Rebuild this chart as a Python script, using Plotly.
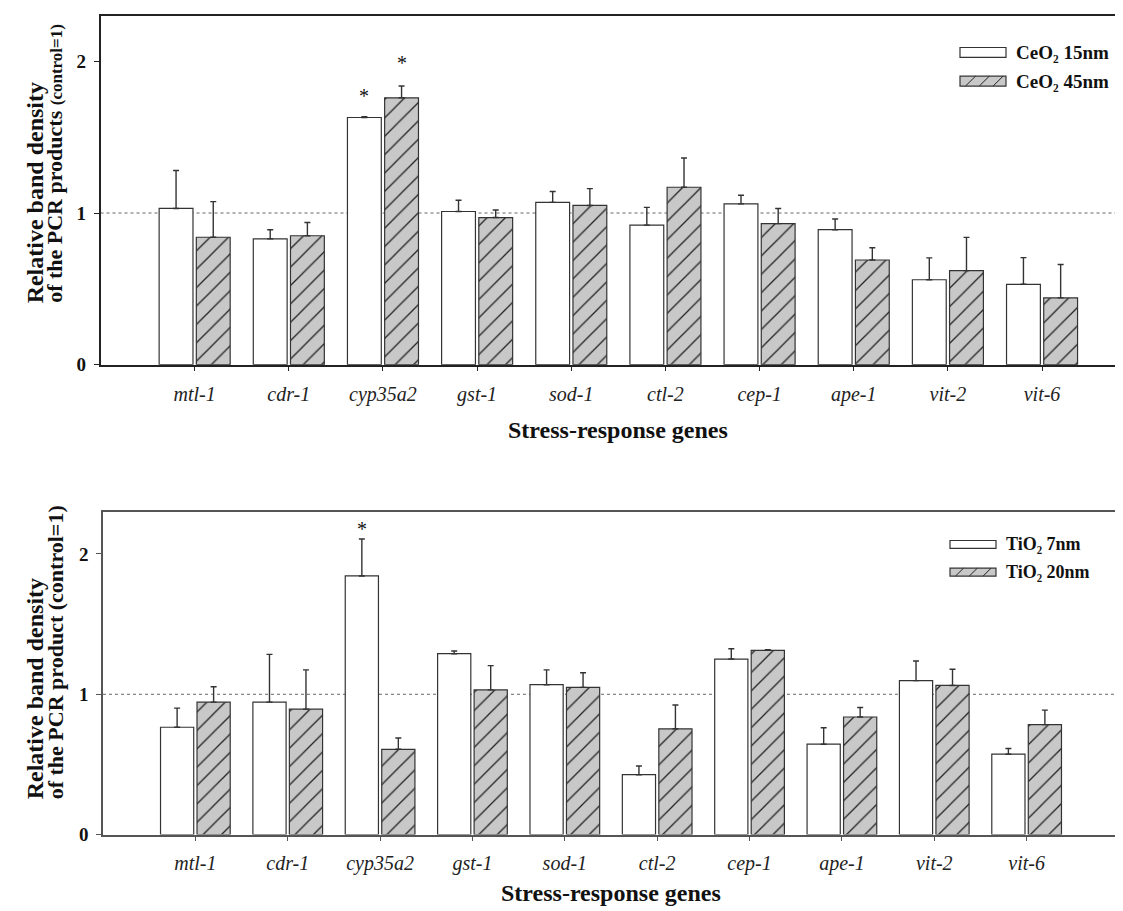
import plotly.graph_objects as go

# ---------------- data ----------------
genes = ["mtl-1", "cdr-1", "cyp35a2", "gst-1", "sod-1", "ctl-2", "cep-1", "ape-1", "vit-2", "vit-6"]

ceo2_15 = [1.03, 0.83, 1.63, 1.01, 1.07, 0.92, 1.06, 0.89, 0.56, 0.53]
ceo2_15_err = [0.25, 0.06, 0.006, 0.074, 0.072, 0.117, 0.057, 0.071, 0.144, 0.176]
ceo2_45 = [0.84, 0.85, 1.76, 0.97, 1.05, 1.17, 0.93, 0.69, 0.62, 0.44]
ceo2_45_err = [0.235, 0.087, 0.078, 0.05, 0.111, 0.193, 0.10, 0.081, 0.219, 0.22]

tio2_7 = [0.765, 0.944, 1.843, 1.289, 1.068, 0.427, 1.251, 0.644, 1.097, 0.573]
tio2_7_err = [0.136, 0.34, 0.263, 0.019, 0.106, 0.062, 0.073, 0.117, 0.14, 0.04]
tio2_20 = [0.944, 0.894, 0.608, 1.031, 1.049, 0.754, 1.313, 0.838, 1.063, 0.784]
tio2_20_err = [0.11, 0.28, 0.08, 0.173, 0.104, 0.169, 0.005, 0.068, 0.115, 0.103]

# significance stars: (gene index, series 0=small/1=large, y value)
stars_top = [(2, 0, 1.77), (2, 1, 1.99)]
stars_bottom = [(2, 0, 2.18)]

top_legend = ["CeO\u2082 15nm", "CeO\u2082 45nm"]
bottom_legend = ["TiO\u2082 7nm", "TiO\u2082 20nm"]

x_title = "Stress-response genes"
y_title_top = [("Relative band density", 24),
               ("of the PCR products <span style='font-size:17px'>(control=1)</span>", 22)]
y_title_bottom = [("Relative band density", 24),
                  ("of the PCR product (control=1)", 22)]

# ---------------- layout helpers ----------------
W, H = 1123, 911
FONT = "Liberation Serif, Times New Roman, serif"
HATCH_BG = "#c8c8c8"
EDGE = "#333333"


def px(x):
    return x / W


def py(y):
    return 1 - y / H


fig = go.Figure()


def add_pair(a, aerr, b, berr, xa, ya):
    fig.add_trace(go.Bar(
        x=genes, y=a, xaxis=xa, yaxis=ya, showlegend=False,
        marker=dict(color="white", line=dict(color=EDGE, width=1.2)),
        error_y=dict(type="data", array=aerr, arrayminus=[0] * len(aerr), symmetric=False,
                     color=EDGE, thickness=1.4, width=3),
    ))
    fig.add_trace(go.Bar(
        x=genes, y=b, xaxis=xa, yaxis=ya, showlegend=False,
        marker=dict(color=HATCH_BG, line=dict(color=EDGE, width=1.2),
                    pattern=dict(shape="/", size=13, solidity=0.1, fgcolor="#222222",
                                 bgcolor=HATCH_BG, fillmode="replace")),
        error_y=dict(type="data", array=berr, arrayminus=[0] * len(berr), symmetric=False,
                     color=EDGE, thickness=1.4, width=3),
    ))


add_pair(ceo2_15, ceo2_15_err, ceo2_45, ceo2_45_err, "x", "y")
add_pair(tio2_7, tio2_7_err, tio2_20, tio2_20_err, "x2", "y2")

# domains (pixel measured)
top_x = [px(92.5), 1.0]
top_xrange = [-1, (1123 - 186.7) / 94.15]
top_y = [py(361), py(8)]
bot_x = [px(95), px(1111)]
bot_xrange = [-1, 10]
bot_y = [py(836.7), py(510)]

tickfont_x = dict(family=FONT, size=20, color="#222", style="italic")
tickfont_y = dict(family=FONT, size=19, color="#111", weight="bold")

fig.update_layout(
    width=W, height=H,
    margin=dict(l=0, r=0, t=0, b=0),
    paper_bgcolor="white", plot_bgcolor="white",
    barmode="group", bargap=0.21, bargroupgap=0.09,
    xaxis=dict(domain=top_x, range=top_xrange, type="category", showline=True, mirror=True,
               linecolor="#222", linewidth=1.5, ticks="outside", ticklen=5, tickcolor="#222",
               tickwidth=1.3, tickfont=tickfont_x, ticklabelstandoff=6, showgrid=False,
               zeroline=False, anchor="y"),
    yaxis=dict(domain=top_y, range=[0, 2.3], tickvals=[0, 1, 2], showline=True, mirror=False,
               linecolor="#222", linewidth=1.5, ticks="outside", ticklen=5, tickcolor="#222",
               tickwidth=1.3, tickfont=tickfont_y, ticklabelstandoff=4, showgrid=False,
               zeroline=False, anchor="x"),
    xaxis2=dict(domain=bot_x, range=bot_xrange, type="category", showline=True, mirror=True,
                linecolor="#555", linewidth=1.5, ticks="outside", ticklen=5, tickcolor="#555",
                tickwidth=1.3, tickfont=tickfont_x, ticklabelstandoff=5, showgrid=False,
                zeroline=False, anchor="y2"),
    yaxis2=dict(domain=bot_y, range=[0, 2.3], tickvals=[0, 1, 2], showline=True, mirror=True,
                linecolor="#555", linewidth=1.5, ticks="outside", ticklen=5, tickcolor="#555",
                tickwidth=1.3, tickfont=tickfont_y, ticklabelstandoff=4, showgrid=False,
                zeroline=False, anchor="x2"),
)

# dotted control line
for xr, yr in (("x domain", "y"), ("x2 domain", "y2")):
    fig.add_shape(type="line", xref=xr, yref=yr, x0=0, x1=1, y0=1, y1=1,
                  line=dict(color="#666", width=1, dash="dot"), layer="below")

annotations = []
# axis titles
for xc, ycen in (((px(92.5) + px(1128)) / 2, 427), ((bot_x[0] + bot_x[1]) / 2, 896)):
    annotations.append(dict(xref="paper", yref="paper", x=xc, y=py(ycen), text=x_title,
                            showarrow=False, xanchor="center", yanchor="middle",
                            font=dict(family=FONT, size=24, color="#111", weight="bold")))

for lines, ybot in ((y_title_top, 301), (y_title_bottom, 803)):
    for (line, fs), xc in zip(lines, (26.5, 47)):
        annotations.append(dict(xref="paper", yref="paper", x=px(xc), y=py(ybot), text=line,
                                showarrow=False, textangle=-90, xanchor="center", yanchor="bottom",
                                font=dict(family=FONT, size=fs, color="#111", weight="bold")))

# stars
bar_off = 0.1975
for stars, xr, yr in ((stars_top, "x", "y"), (stars_bottom, "x2", "y2")):
    for gi, s, yv in stars:
        annotations.append(dict(xref=xr, yref=yr, x=gi + (-bar_off if s == 0 else bar_off), y=yv,
                                text="*", showarrow=False, xanchor="center", yanchor="middle",
                                font=dict(family=FONT, size=20, color="#111")))

# manual legends
shapes = []


def legend(items, x0, x1, rows, h, tx, fsize):
    for k, (label, yc) in enumerate(zip(items, rows)):
        y0, y1 = yc + h / 2, yc - h / 2
        shapes.append(dict(type="rect", xref="paper", yref="paper", x0=px(x0), x1=px(x1),
                           y0=py(y0), y1=py(y1), line=dict(color=EDGE, width=1.2),
                           fillcolor="white" if k == 0 else HATCH_BG))
        if k == 1:
            for a in (0.12, 0.42, 0.72):
                xs = x0 + a * (x1 - x0)
                shapes.append(dict(type="line", xref="paper", yref="paper", x0=px(xs), x1=px(xs + h),
                                   y0=py(y0), y1=py(y1), line=dict(color="#222", width=1)))
        annotations.append(dict(xref="paper", yref="paper", x=px(tx), y=py(yc), text=label,
                                showarrow=False, xanchor="left", yanchor="middle",
                                font=dict(family=FONT, size=fsize, color="#111", weight="bold")))


legend(top_legend, 952, 998, (45, 74), 10, 1006, 19)
legend(bottom_legend, 942, 988, (543, 571), 8, 996, 18)

fig.update_layout(annotations=annotations, shapes=list(fig.layout.shapes) + shapes)

fig.write_html("out.html")
